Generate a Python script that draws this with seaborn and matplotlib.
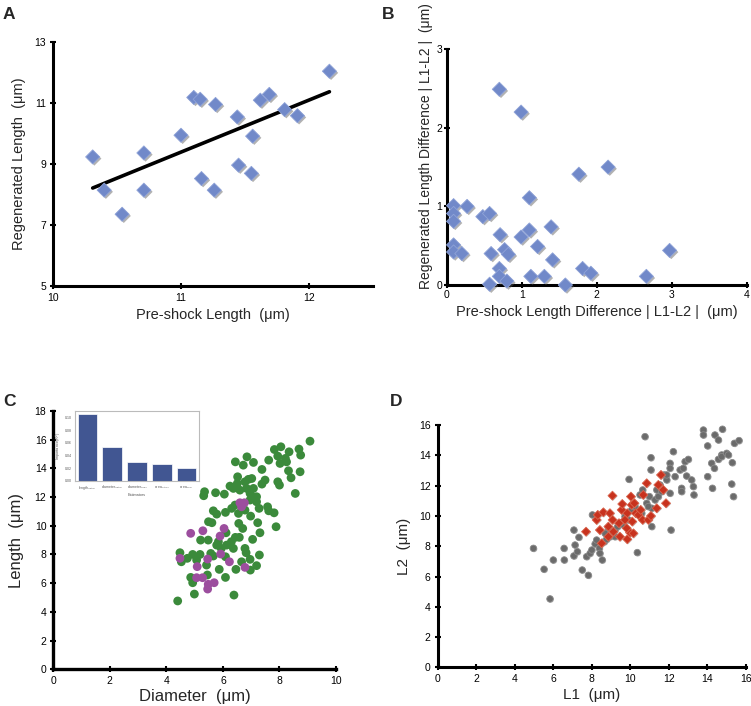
import numpy as np
import pandas as pd
import seaborn as sns
import matplotlib.pyplot as plt
import matplotlib.patheffects as pe

# --- panel A: pre-shock vs regenerated length ---
a_pre = [10.31, 10.40, 10.54, 10.71, 10.71, 11.00, 11.10, 11.15, 11.16, 11.27,
         11.26, 11.44, 11.45, 11.55, 11.56, 11.62, 11.69, 11.81, 11.91, 12.16]
a_regen = [9.23, 8.14, 7.35, 9.36, 8.14, 9.94, 11.18, 11.12, 8.52, 10.95,
           8.14, 10.54, 8.96, 8.69, 9.91, 11.09, 11.28, 10.78, 10.58, 12.04]

# --- panel B: length differences ---
b_pre_diff = [0.70, 0.99, 2.15, 1.76, 1.10, 0.09, 0.27, 0.09, 0.09, 0.48, 0.57,
              0.71, 0.99, 1.10, 1.39, 1.21, 0.09, 0.09, 0.20, 0.59, 0.77, 0.82,
              1.41, 2.97, 0.70, 0.70, 0.80, 0.57, 1.12, 1.30, 1.58, 1.81, 1.92, 2.66]
b_regen_diff = [2.49, 2.20, 1.50, 1.41, 1.11, 1.01, 1.00, 0.91, 0.81, 0.87, 0.91,
                0.64, 0.61, 0.70, 0.74, 0.49, 0.51, 0.42, 0.40, 0.40, 0.45, 0.39,
                0.32, 0.44, 0.21, 0.11, 0.05, 0.01, 0.11, 0.11, 0.00, 0.21, 0.15, 0.11]

# --- panel C: diameter vs length ---
c_green_diam = [9.08, 8.05, 7.82, 8.69, 8.34, 8.75, 7.94, 8.21, 6.85, 7.62, 7.08,
                6.44, 6.72, 8.25, 8.02, 7.38, 8.32, 8.73, 6.52, 8.41, 7.49, 7.38,
                7.94, 8.00, 6.90, 7.02, 6.78, 6.25, 6.51, 6.37, 6.60, 6.84, 7.08,
                6.96, 7.19, 5.35, 5.32, 5.74, 6.05, 8.56, 7.19, 7.28, 6.96, 6.31,
                6.43, 6.55, 6.78, 6.09, 5.66, 5.78, 7.58, 7.62, 7.81, 6.98, 5.49,
                5.61, 6.56, 6.70, 7.23, 7.88, 6.11, 7.31, 5.21, 5.48, 5.84, 5.78,
                6.30, 6.44, 6.58, 7.05, 5.94, 6.13, 6.37, 6.78, 6.82, 7.29, 4.48,
                4.93, 4.74, 4.53, 5.19, 5.57, 5.66, 6.09, 5.07, 5.42, 6.66, 6.96,
                7.19, 5.87, 6.46, 6.97, 4.86, 5.45, 4.93, 6.09, 4.99, 6.39, 4.40]
c_green_len = [15.89, 15.50, 15.31, 15.34, 15.15, 14.92, 14.85, 14.69, 14.80, 14.57,
               14.41, 14.45, 14.22, 14.45, 14.34, 13.92, 13.83, 13.76, 13.41, 13.34,
               13.18, 12.90, 13.06, 12.83, 13.23, 13.29, 13.06, 12.76, 12.95, 12.60,
               12.48, 12.60, 12.60, 12.25, 12.02, 12.37, 12.09, 12.30, 12.20, 12.25,
               11.67, 11.21, 11.79, 11.21, 11.44, 10.86, 11.09, 10.93, 11.04, 10.81,
               11.32, 11.04, 10.90, 10.67, 10.28, 10.21, 10.16, 9.81, 10.21, 9.93,
               9.51, 9.51, 9.00, 9.00, 8.89, 8.65, 8.89, 9.19, 9.19, 9.05, 8.42,
               8.65, 8.42, 8.42, 8.12, 7.96, 8.12, 8.00, 7.73, 7.49, 8.00, 8.07,
               7.89, 7.84, 7.61, 7.26, 7.49, 7.66, 7.22, 6.96, 6.96, 6.91, 6.40,
               6.57, 6.03, 6.40, 5.24, 5.17, 4.76]
c_purple_diam = [6.60, 6.76, 6.66, 4.86, 5.29, 6.04, 5.90, 4.48, 5.46, 5.09,
                 5.92, 6.23, 6.78, 5.07, 5.28, 5.48, 5.69, 5.46]
c_purple_len = [11.60, 11.60, 11.32, 9.47, 9.65, 9.81, 9.28, 7.73, 7.68, 7.15,
                8.03, 7.49, 7.10, 6.38, 6.38, 5.92, 6.03, 5.59]

# inset: importance per estimator
inset_labels = ["length$_{initial}$", "diameter$_{initial}$", "diameter$_{final}$",
                "area$_{initial}$", "area$_{final}$"]
inset_values = [0.105, 0.0535, 0.030, 0.027, 0.021]

# --- panel D: L1 vs L2 ---
d_grey_l1 = [4.97, 5.52, 5.83, 6.00, 6.56, 6.57, 7.07, 7.07, 7.13, 7.25, 7.33, 7.50,
             7.82, 7.73, 7.91, 8.00, 8.03, 8.17, 8.25, 8.39, 8.42, 8.54, 8.65, 8.77,
             8.94, 9.12, 9.20, 9.34, 9.55, 9.72, 9.93, 10.07, 10.24, 10.36, 10.50,
             10.64, 10.76, 10.85, 10.99, 11.07, 11.07, 11.11, 11.11, 11.28, 11.37,
             11.54, 11.76, 11.89, 12.06, 12.06, 12.06, 12.11, 12.23, 12.32, 12.58,
             12.66, 12.66, 12.75, 12.84, 13.01, 12.92, 13.18, 13.27, 13.30, 13.79,
             13.79, 14.01, 14.01, 14.22, 14.26, 14.36, 14.39, 14.57, 14.57, 14.74,
             14.78, 14.74, 15.00, 15.09, 15.29, 15.26, 15.35, 15.40, 15.64, 8.86,
             9.64, 9.90, 10.59, 10.93, 11.45, 11.63, 11.89, 8.69, 9.20]
d_grey_l2 = [7.86, 6.48, 4.52, 7.09, 7.86, 7.09, 9.07, 7.36, 8.08, 7.64, 8.59, 6.43,
             6.08, 7.31, 7.53, 7.75, 10.07, 8.15, 8.41, 7.86, 7.53, 7.09, 8.30, 8.46,
             8.63, 8.85, 9.07, 9.30, 9.56, 9.96, 12.42, 10.40, 10.62, 7.58, 11.39,
             11.72, 15.24, 10.84, 11.28, 13.85, 13.04, 10.51, 9.30, 11.06, 11.72,
             12.05, 12.71, 12.38, 13.48, 13.15, 11.50, 9.07, 14.25, 12.60, 13.04,
             11.83, 11.61, 13.15, 13.59, 13.74, 12.64, 12.38, 11.94, 11.39, 15.68,
             15.35, 14.63, 12.60, 13.48, 11.83, 13.15, 15.35, 15.02, 13.74, 14.03,
             15.73, 13.92, 14.14, 14.03, 13.52, 12.11, 11.28, 14.80, 14.98, 9.19,
             9.41, 9.74, 10.18, 10.62, 11.28, 11.61, 12.71, 8.85, 8.63]
d_red_l1 = [7.70, 8.25, 8.31, 8.60, 8.42, 8.51, 8.94, 9.07, 9.08, 8.86, 9.12, 9.41,
            9.46, 9.55, 9.58, 9.84, 9.84, 9.98, 10.03, 10.07, 10.10, 10.21, 10.28,
            10.42, 10.54, 10.64, 10.85, 10.67, 10.93, 11.07, 11.37, 11.45, 11.71,
            11.59, 11.85, 9.72, 8.86, 10.16, 9.81]
d_red_l2 = [8.96, 9.74, 10.07, 10.24, 9.07, 8.19, 10.18, 11.34, 9.74, 9.30, 8.96, 9.52,
            8.63, 10.40, 10.79, 10.18, 8.46, 8.90, 11.28, 10.73, 9.63, 10.84, 10.18,
            10.07, 10.40, 9.74, 12.16, 11.39, 9.74, 10.00, 10.51, 12.05, 11.72,
            12.71, 10.84, 9.74, 8.63, 8.85, 9.19]

sns.set_style("white")
plt.rcParams['font.family'] = ['Liberation Sans', 'DejaVu Sans']
plt.rcParams['mathtext.fontset'] = 'dejavusans'

fig = plt.figure(figsize=(7.51, 7.06), dpi=100)

shadow = [pe.SimplePatchShadow(offset=(1.2, -1.2), shadow_rgbFace='#555555', alpha=0.45), pe.Normal()]
soft = [pe.SimplePatchShadow(offset=(0.5, -0.5), shadow_rgbFace='#999999', alpha=0.5), pe.Normal()]


def style_axis(ax, lw=2.2, ticksize=7.5, pad=3):
    sns.despine(ax=ax)
    for s in ["left", "bottom"]:
        ax.spines[s].set_linewidth(lw)
        ax.spines[s].set_color("black")
    ax.tick_params(axis="both", direction="inout", length=4, width=1.5,
                   labelsize=ticksize, colors="black", pad=pad,
                   bottom=True, left=True)


# panel A
axA = fig.add_axes([0.0706, 0.595, 0.426, 0.3456])
dfA = pd.DataFrame({"pre": a_pre, "regen": a_regen})
sns.regplot(data=dfA, x="pre", y="regen", ax=axA, scatter=False, ci=None,
            truncate=True, line_kws=dict(color="black", lw=2.6))
sns.scatterplot(data=dfA, x="pre", y="regen", ax=axA, marker="D", s=52,
                color="#7189c9", edgecolor="#8fa3d8", linewidth=0.6, zorder=3)
axA.collections[-1].set_path_effects(shadow)
axA.set_xlim(10, 12.5)
axA.set_ylim(5, 13)
axA.set_xticks([10, 11, 12])
axA.set_yticks([5, 7, 9, 11, 13])
style_axis(axA)
axA.set_xlabel("Pre-shock Length  (μm)", fontsize=10.5, labelpad=4)
axA.set_ylabel("Regenerated Length  (μm)", fontsize=10.5, labelpad=6)

# panel B
axB = fig.add_axes([0.595, 0.5963, 0.3995, 0.334])
dfB = pd.DataFrame({"pre": b_pre_diff, "regen": b_regen_diff})
sns.scatterplot(data=dfB, x="pre", y="regen", ax=axB, marker="D", s=52,
                color="#7189c9", edgecolor="#8fa3d8", linewidth=0.6, zorder=3,
                clip_on=False)
axB.collections[-1].set_path_effects(shadow)
axB.set_xlim(0, 4)
axB.set_ylim(0, 3)
axB.set_xticks([0, 1, 2, 3, 4])
axB.set_yticks([0, 1, 2, 3])
style_axis(axB, pad=1.5)
axB.set_xlabel("Pre-shock Length Difference | L1-L2 |  (μm)", fontsize=10.5, labelpad=4)
axB.set_ylabel("Regenerated Length Difference | L1-L2 |  (μm)", fontsize=10)
axB.yaxis.set_label_coords(-0.045, 0.59)

# panel C
axC = fig.add_axes([0.071, 0.052, 0.3764, 0.366])
sns.scatterplot(x=c_green_diam, y=c_green_len, ax=axC, s=40, color="#3b8a3b",
                edgecolor="none")
sns.scatterplot(x=c_purple_diam, y=c_purple_len, ax=axC, s=40, color="#9c4e9e",
                edgecolor="none")
axC.set_xlim(0, 10)
axC.set_ylim(0, 18)
axC.set_xticks(range(0, 11, 2))
axC.set_yticks(range(0, 19, 2))
style_axis(axC, lw=2.4, ticksize=7.5)
axC.set_xlabel("Diameter  (μm)", fontsize=12, labelpad=2)
axC.set_ylabel("Length  (μm)", fontsize=12, labelpad=8)

# inset bar chart
axI = fig.add_axes([0.0999, 0.3187, 0.165, 0.099])
sns.barplot(x=inset_labels, y=inset_values, ax=axI, color="#33509f",
            edgecolor="white", linewidth=0.5, width=0.8)
axI.set_ylim(0, 0.11)
axI.set_yticks([0, 0.02, 0.04, 0.06, 0.08, 0.10])
axI.tick_params(labelsize=2.5, length=1, pad=1, colors="#555555")
axI.set_xlabel("Estimators", fontsize=2.8, labelpad=1, color="#555555")
axI.set_ylabel("Importance(R$^2$)", fontsize=2.8, labelpad=1, color="#555555")
for s in axI.spines.values():
    s.set_color("#bbbbbb")
    s.set_linewidth(0.8)

# panel D
axD = fig.add_axes([0.5828, 0.0548, 0.4105, 0.343])
sns.scatterplot(x=d_grey_l1, y=d_grey_l2, ax=axD, s=22, color="#6b6b6b",
                edgecolor="#8a8a8a", linewidth=0.6)
axD.collections[-1].set_path_effects(soft)
sns.scatterplot(x=d_red_l1, y=d_red_l2, ax=axD, marker="D", s=21, color="#c8321e",
                edgecolor="#d9664f", linewidth=0.6)
axD.collections[-1].set_path_effects(soft)
axD.set_xlim(0, 16)
axD.set_ylim(0, 16)
axD.set_xticks(range(0, 17, 2))
axD.set_yticks(range(0, 17, 2))
style_axis(axD, lw=2.2, ticksize=7.5)
axD.set_xlabel("L1  (μm)", fontsize=11, labelpad=3)
axD.set_ylabel("L2  (μm)", fontsize=11, labelpad=6)

# panel letters
for letter, (x, y) in {"A": (0.004, 0.979), "B": (0.508, 0.979),
                       "C": (0.004, 0.431), "D": (0.519, 0.432)}.items():
    fig.text(x, y, letter, fontsize=12.5, fontweight="bold", va="center")

fig.savefig("out.png", dpi=100)
